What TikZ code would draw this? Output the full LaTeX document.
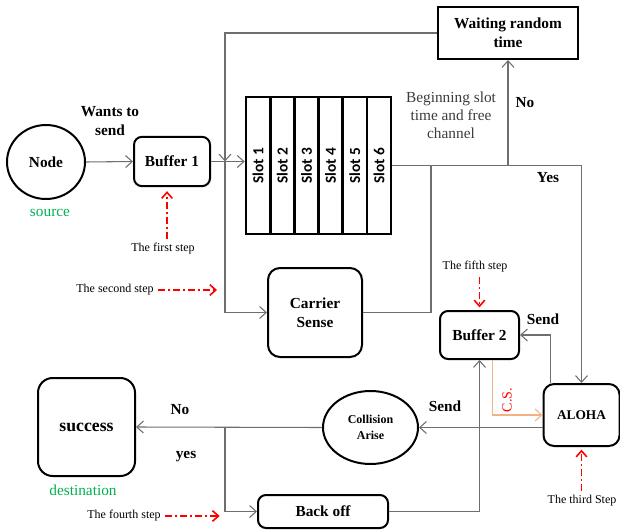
\documentclass[tikz,border=0pt]{standalone}
\usepackage{fontspec}
\setmainfont{Liberation Serif}
\newfontfamily\slotfont{Carlito}
\usepackage{tikz}
\usetikzlibrary{positioning, arrows.meta, calc, shapes.geometric}
\definecolor{srcgreen}{RGB}{0,176,80}
\definecolor{stepred}{RGB}{255,0,0}
\definecolor{csorange}{RGB}{244,177,131}
\definecolor{linegray}{RGB}{110,110,110}
\definecolor{txtgray}{RGB}{60,60,60}
\tikzset{
  box/.style={draw, line width=1.5pt, rounded corners=6pt, align=center, inner sep=0pt,
    font=\fontsize{11.5}{14.25}\selectfont\bfseries},
  oval/.style={draw, ellipse, line width=1.5pt, align=center, inner sep=0pt},
  slotbox/.style={draw, line width=2pt, rotate=90, minimum width=102.75pt, minimum height=18.1pt,
    inner sep=0pt, font=\slotfont\fontsize{11.5}{13}\selectfont\bfseries},
  conn/.style={draw=linegray, line width=0.8pt, -{Straight Barb[length=5pt,width=9pt]}},
  plain/.style={draw=linegray, line width=0.8pt},
  stepnote/.style={font=\fontsize{9}{11}\selectfont},
  steparrow/.style={draw=stepred, line width=1.2pt, dash pattern=on 5pt off 2.5pt on 1.2pt off 2.5pt,
    -{Straight Barb[length=4.5pt,width=8pt]}},
  lbl/.style={font=\fontsize{11.5}{14.25}\selectfont\bfseries, align=center},
}
\begin{document}
\begin{tikzpicture}[x=0.75pt, y=-0.75pt]
  \useasboundingbox (0,0) rectangle (620,531);
  % main nodes
  \node[oval, minimum width=58.5pt, minimum height=55.5pt, font=\fontsize{11.5}{13}\selectfont\bfseries] (src) at (46,162) {Node};
  \node[box, minimum width=57pt, minimum height=37pt] (buf1) at (172,161.5) {Buffer 1};
  \foreach \i in {1,...,6}
    \node[slotbox] (slot\i) at ({246+24.17*(\i-0.5)},165.5) {Slot \i};
  \node[box, sharp corners, minimum width=105pt, minimum height=39pt] (wait) at (508,33) {Waiting random\\time};
  \node[box, rounded corners=9pt, minimum width=70.5pt, minimum height=66.75pt] (cs) at (315,312.5) {Carrier\\Sense};
  \node[box, minimum width=59.25pt, minimum height=36pt] (buf2) at (479.5,335) {Buffer 2};
  \node[box, rounded corners=8pt, minimum width=57pt, minimum height=46.5pt, font=\fontsize{10}{12}\selectfont\bfseries] (aloha) at (581.5,415) {ALOHA};
  \node[oval, minimum width=71.25pt, minimum height=54.75pt, font=\fontsize{9}{12}\selectfont\bfseries] (col) at (370.5,427.5) {Collision\\Arise};
  \node[box, rounded corners=11pt, minimum width=72.75pt, minimum height=73.5pt, font=\fontsize{13.3}{15}\selectfont\bfseries] (succ) at (86.5,427) {success};
  \node[box, minimum width=97.5pt, minimum height=24.75pt] (boff) at (323,511.5) {Back off};

  \coordinate (busx) at (225,0);
  \coordinate (csj) at (431,0);

  % connectors
  \draw[conn] (src.east) -- (buf1.west);
  \draw[conn] (buf1.east) -- (buf1.east -| slot1.north);
  \draw[conn] (wait.west) -| (busx |- buf1.east);
  \draw[conn] (busx |- buf1.east) |- (cs.west);
  \draw[conn] (slot6.south) -| (aloha.north);
  \draw[conn] (wait.south |- slot6.south) -- (wait.south);
  \draw[plain] (cs.east) -| (csj |- slot6.south);
  \draw[conn] ([xshift=6pt]aloha.north west) |- (buf2.east);
  \draw[conn, draw=csorange] ([xshift=10pt]buf2.south) |- (aloha.west);
  \draw[conn] (aloha.west |- col.east) -- (col.east);
  \draw[conn] (col.west) -- (succ.east);
  \draw[conn] (busx |- succ.east) |- (boff.west);
  \draw[conn] (boff.east) -| (buf2.south);

  % labels
  \node[lbl] (wants) at (110,121) {Wants to\\send};
  \node[font=\fontsize{11.5}{14}\selectfont, text=srcgreen] (srclbl) at (50,213) {source};
  \node[font=\fontsize{11.5}{14}\selectfont, text=srcgreen] (dstlbl) at (83,490) {destination};
  \node[font=\fontsize{11.5}{13.5}\selectfont, text=txtgray, align=center] (begin) at (451,115) {Beginning slot\\time and free\\channel};
  \node[lbl] (no1) at (525,103) {No};
  \node[lbl] (yes1) at (548,178) {Yes};
  \node[lbl] (send1) at (543,319) {Send};
  \node[lbl] (send2) at (445,406) {Send};
  \node[lbl] (no2) at (180,410) {No};
  \node[lbl] (yes2) at (186,457) {yes};
  \node[rotate=90, color=stepred, font=\fontsize{10.5}{12}\selectfont] (cslbl) at (507,400) {C.S.};

  % steps
  \node[stepnote] (st1) at (163,249) {The first step};
  \node[stepnote] (st2) at (115,290) {The second step};
  \node[stepnote] (st3) at (582,501) {The third Step};
  \node[stepnote] (st4) at (124,516) {The fourth step};
  \node[stepnote] (st5) at (475,267) {The fifth step};
  \draw[steparrow, shorten >=3pt] ([xshift=3pt]st1.north) -- ([xshift=3pt]st1.north |- buf1.south);
  \draw[steparrow, shorten >=6pt] (st2.east) -- (busx |- st2.east);
  \draw[steparrow, shorten >=4pt] (st4.east) -- (busx |- st4.east);
  \draw[steparrow, shorten >=2pt] (st5.south -| buf2.north) -- (buf2.north);
  \draw[steparrow, shorten >=2pt] (st3.north -| aloha.south) -- (aloha.south);
\end{tikzpicture}
\end{document}
